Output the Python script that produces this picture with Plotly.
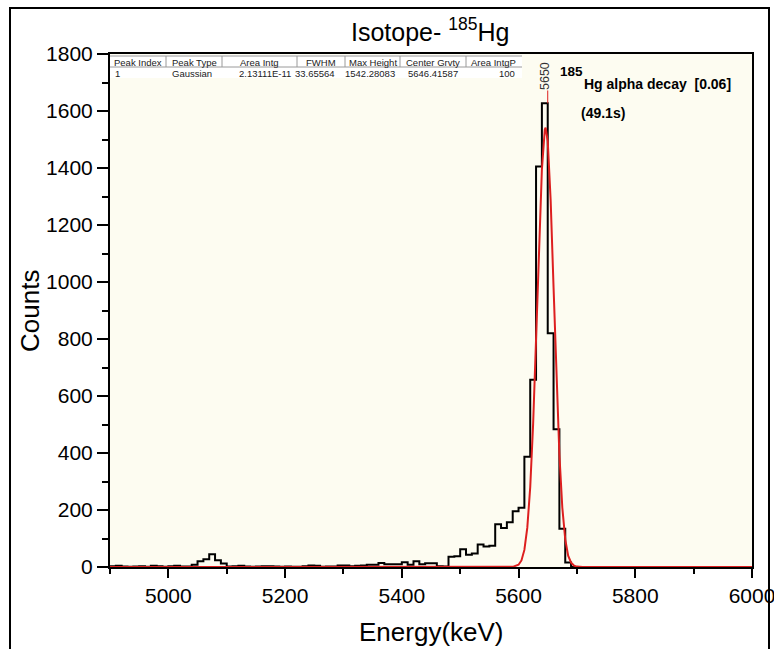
import plotly.graph_objects as go

# ---------------- data ----------------
bin_width = 10
bin_start = list(range(4900, 5700, bin_width))  # left edges of 10 keV bins
counts = [
    3, 4, 2, 1, 2, 3, 1, 4, 3, 1,            # 4900-4990
    3, 4, 2, 2, 8, 20, 27, 45, 24, 12,       # 5000-5090
    2, 3, 4, 2, 1, 2, 3, 3, 2, 1,            # 5100-5190
    2, 1, 1, 3, 5, 4, 1, 2, 2, 5,            # 5200-5290
    5, 3, 4, 5, 8, 8, 14, 10, 10, 10,        # 5300-5390
    17, 8, 20, 10, 13, 13, 3, 2, 36, 38,     # 5400-5490
    62, 43, 47, 79, 72, 75, 150, 137, 157, 196,  # 5500-5590
    208, 387, 657, 1405, 1627, 820, 483, 134, 16, 0,  # 5600-5690
]
x_end = 6000

fit_energy = [4900, 5580, 5590, 5600, 5605, 5610, 5615, 5620, 5625, 5630, 5635,
              5640, 5645, 5646.4, 5650, 5655, 5660, 5665, 5670, 5675, 5680,
              5685, 5690, 5695, 5700, 5710, 6000]
fit_counts = [0, 0, 0.6, 7.9, 23, 60, 138, 280, 503, 798, 1122,
              1395, 1535, 1542, 1494, 1287, 981, 661, 394, 208, 97,
              40, 15, 5, 1.4, 0, 0]

peak_label = 5650

table_header = ["Peak Index", "Peak Type", "Area Intg", "FWHM", "Max Height",
                "Center Grvty", "Area IntgP"]
table_row = ["1", "Gaussian", "2.13111E-11", "33.65564", "1542.28083",
             "5646.41587", "100"]

x_ticks = [5000, 5200, 5400, 5600, 5800, 6000]

# ---------------- layout helpers ----------------
W, H = 774, 649
L, R, T, B = 110, 752, 54, 567
FONT = "Liberation Sans, Arial, sans-serif"


def px(x):
    return (x - L) / (R - L)


def py(y):
    return (B - y) / (B - T)


fig = go.Figure()

fig.add_trace(go.Scatter(
    x=bin_start + [x_end], y=counts + [0],
    mode="lines", line=dict(color="black", width=2, shape="hv"),
    hoverinfo="skip"))

fig.add_trace(go.Scatter(
    x=fit_energy, y=fit_counts, mode="lines",
    line=dict(color="#dd1f1f", width=2), hoverinfo="skip"))

shapes = []
# outer frame
shapes.append(dict(type="rect", xref="paper", yref="paper",
                   x0=px(10), x1=px(769), y0=py(660), y1=py(8),
                   line=dict(color="black", width=2), layer="above"))
# table
tx0, tx1, ty0, ty1, tyh = 110, 522, 55, 78, 67
shapes.append(dict(type="rect", xref="paper", yref="paper",
                   x0=px(tx0), x1=px(tx1), y0=py(ty1), y1=py(ty0),
                   fillcolor="white", line=dict(width=0), layer="above"))
shapes.append(dict(type="line", xref="paper", yref="paper",
                   x0=px(tx0), x1=px(tx1), y0=py(ty0 + 1), y1=py(ty0 + 1),
                   line=dict(color="#9a9a9a", width=1), layer="above"))
shapes.append(dict(type="line", xref="paper", yref="paper",
                   x0=px(tx0), x1=px(tx1), y0=py(tyh), y1=py(tyh),
                   line=dict(color="#9a9a9a", width=1), layer="above"))
col_edges = [110, 166, 222, 297, 345, 400, 466, 522]
for ce in col_edges[1:-1]:
    shapes.append(dict(type="line", xref="paper", yref="paper",
                       x0=px(ce), x1=px(ce), y0=py(ty0 + 1), y1=py(tyh),
                       line=dict(color="#9a9a9a", width=1), layer="above"))
# peak marker line
shapes.append(dict(type="line", xref="x", yref="y",
                   x0=peak_label, x1=peak_label, y0=max(counts), y1=max(counts) + 45,
                   line=dict(color="#dd1f1f", width=1)))

ann = []


def text(s, x, y, size, xanchor="center", bold=False, angle=0, color="black"):
    ann.append(dict(text=("<b>%s</b>" % s) if bold else s,
                    x=px(x), y=py(y), xref="paper", yref="paper",
                    xanchor=xanchor, yanchor="middle", showarrow=False,
                    textangle=angle,
                    font=dict(family=FONT, size=size, color=color)))


text("Isotope- <sup>185</sup>Hg", 430, 30, 25)
text("Counts", 30, 311, 26, angle=-90)
text("Energy(keV)", 431, 632, 26)

for i, h in enumerate(table_header):
    text(h, (col_edges[i] + col_edges[i + 1]) / 2, 62, 9.5, color="#222")
row_x = [(113, "left"), (170, "left"), (293, "right"), (337, "right"),
         (397, "right"), (460, "right"), (517, "right")]
for (xx, anc), v in zip(row_x, table_row):
    text(v, xx, 73, 9.5, xanchor=anc, color="#222")

text(str(peak_label), 545, 76, 12.5, angle=-90, color="#333")
text("185", 558, 71, 13.5, xanchor="left", bold=True)
text("Hg alpha decay\u00a0\u00a0[0.06]", 582, 84, 14, xanchor="left", bold=True)
text("(49.1s)", 579, 113, 14, xanchor="left", bold=True)

fig.update_layout(
    width=W, height=H,
    margin=dict(l=L, r=W - R, t=T, b=H - B, autoexpand=False),
    paper_bgcolor="white", plot_bgcolor="#fdfcf1",
    showlegend=False,
    font=dict(family=FONT, color="black"),
    shapes=shapes, annotations=ann,
)
fig.update_xaxes(
    range=[4900, 6000], tickmode="array", tickvals=x_ticks,
    ticklabeloverflow="allow", automargin=False,
    ticks="outside", ticklen=9, tickwidth=2, tickcolor="black",
    minor=dict(ticks="outside", dtick=100, tick0=4900, ticklen=5,
               tickwidth=2, tickcolor="black"),
    showline=True, linewidth=2, linecolor="black", mirror=True,
    showgrid=False, zeroline=False, tickfont=dict(size=21, family=FONT),
)
fig.update_yaxes(
    range=[0, 1800], dtick=200, tick0=0,
    ticklabeloverflow="allow", automargin=False,
    ticks="outside", ticklen=11, tickwidth=2, tickcolor="black",
    minor=dict(ticks="outside", dtick=100, ticklen=6, tickwidth=2,
               tickcolor="black"),
    showline=True, linewidth=2, linecolor="black", mirror=True,
    showgrid=False, zeroline=False, tickfont=dict(size=21, family=FONT),
)

fig.write_html("out.html")
